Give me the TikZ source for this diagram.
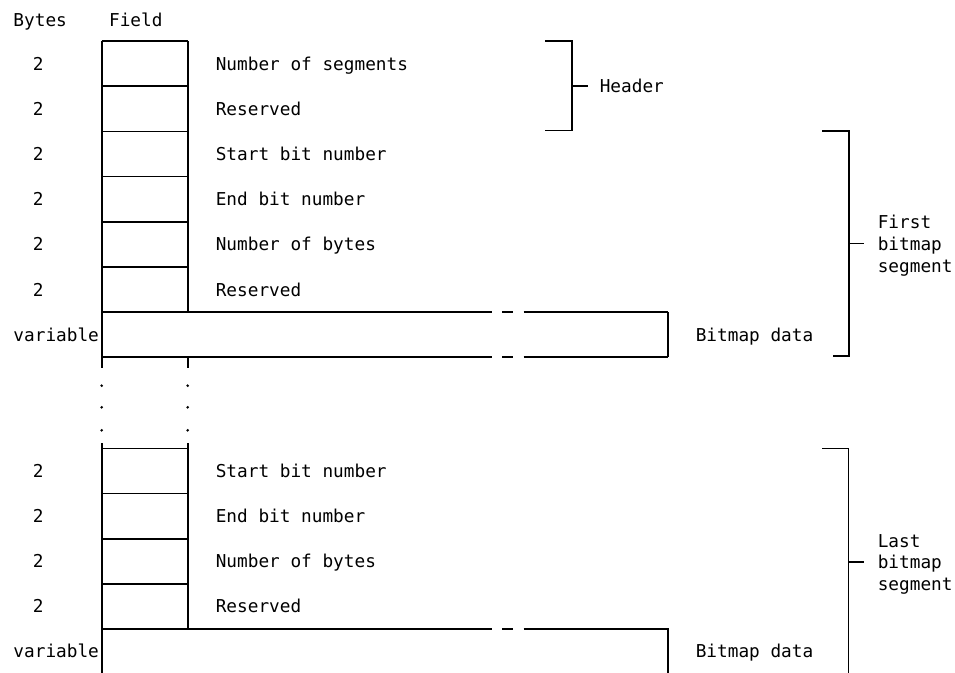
\documentclass[tikz,border=0pt]{standalone}
\usepackage{fontspec}
\setmonofont{DejaVu Sans Mono}
\begin{document}
\begin{tikzpicture}[x=0.75pt,y=-0.75pt,
  line width=1.2pt,
  txt/.style={anchor=base west, inner sep=0pt, font=\ttfamily\fontsize{13.3}{16.3}\selectfont},
  num/.style={anchor=base, inner sep=0pt, font=\ttfamily\fontsize{13.3}{16.3}\selectfont},
  multi/.style={anchor=west, inner sep=0pt, align=left, font=\ttfamily\fontsize{13.3}{16.3}\selectfont},
  dotmark/.style={fill=black}]
\fill[white] (0,0) rectangle (955,672);
\useasboundingbox (0,0) rectangle (955,672);

% column headings
\node[txt] (hbytes) at (12.7,26) {Bytes};
\node[txt] (hfield) at (108.3,26) {Field};

% ---------- first part ----------
\draw (101.7,41) -- (101.7,368);
\draw (187.7,41) -- (187.7,312.2);
\draw (187.7,357) -- (187.7,368);
\foreach \y in {41,86.2,131.4,176.6,221.8,267}
  \draw (101.7,\y) -- (187.7,\y);
% variable box with break
\foreach \y in {312.2,357}{
  \draw (101.7,\y) -- (491.7,\y);
  \draw (502.3,\y) -- (513.3,\y);
  \draw (523.5,\y) -- (667.7,\y);
}
\draw (667.7,312.2) -- (667.7,357);

% rows text
\node[num] (b1) at (38.3,70.0) {2};
\node[num] (b2) at (38.3,115.2) {2};
\node[num] (b3) at (38.3,160.4) {2};
\node[num] (b4) at (38.3,205.6) {2};
\node[num] (b5) at (38.3,250.8) {2};
\node[num] (b6) at (38.3,296.0) {2};
\node[txt] (bv1) at (12.7,341.0) {variable};

\node[txt] (f1) at (215,70.0) {Number of segments};
\node[txt] (f2) at (215,115.2) {Reserved};
\node[txt] (f3) at (215,160.4) {Start bit number};
\node[txt] (f4) at (215,205.6) {End bit number};
\node[txt] (f5) at (215,250.8) {Number of bytes};
\node[txt] (f6) at (215,296.0) {Reserved};
\node[txt] (fv1) at (695,341.0) {Bitmap data};

% dots
\foreach \y in {385.7,407.3,430.3}{
  \fill[dotmark] (101.7,\y) circle[radius=1.1pt];
  \fill[dotmark] (187.7,\y) circle[radius=1.1pt];
}

% ---------- last part ----------
\draw (101.7,443) -- (101.7,690);
\draw (187.7,443) -- (187.7,629.1);
\foreach \y in {448.3,493.5,538.7,583.9}
  \draw (101.7,\y) -- (187.7,\y);
\draw (101.7,629.1) -- (491.7,629.1);
\draw (502.3,629.1) -- (513.3,629.1);
\draw (523.5,629.1) -- (667.7,629.1) -- (667.7,690);

\node[num] (c1) at (38.3,477.3) {2};
\node[num] (c2) at (38.3,522.5) {2};
\node[num] (c3) at (38.3,567.7) {2};
\node[num] (c4) at (38.3,612.9) {2};
\node[txt] (cv) at (12.7,657.9) {variable};

\node[txt] (g1) at (215,477.3) {Start bit number};
\node[txt] (g2) at (215,522.5) {End bit number};
\node[txt] (g3) at (215,567.7) {Number of bytes};
\node[txt] (g4) at (215,612.9) {Reserved};
\node[txt] (gv) at (695,657.9) {Bitmap data};

% ---------- brackets ----------
\draw (545,41) -- (571.7,41) -- (571.7,130.3) -- (545,130.3);
\coordinate (hdrtick) at (571.7,85.7);
\node[txt] (hdr) at (599,92.1) {Header};
\draw (hdrtick) -- ++(16.6,0);

\draw (822.3,131) -- (849,131) -- (849,355.7) -- (833,355.7);
\coordinate (firsttick) at (849,243.3);
\draw (firsttick) -- ++(14.5,0);
\node[multi] (first) at (877,245.8) {First\\bitmap\\segment};

\draw (822.3,448.3) -- (848.5,448.3) -- (848.5,690);
\coordinate (lasttick) at (848.5,561.7);
\draw (lasttick) -- ++(15.5,0);
\node[multi] (last) at (877,564.2) {Last\\bitmap\\segment};
\end{tikzpicture}
\end{document}
